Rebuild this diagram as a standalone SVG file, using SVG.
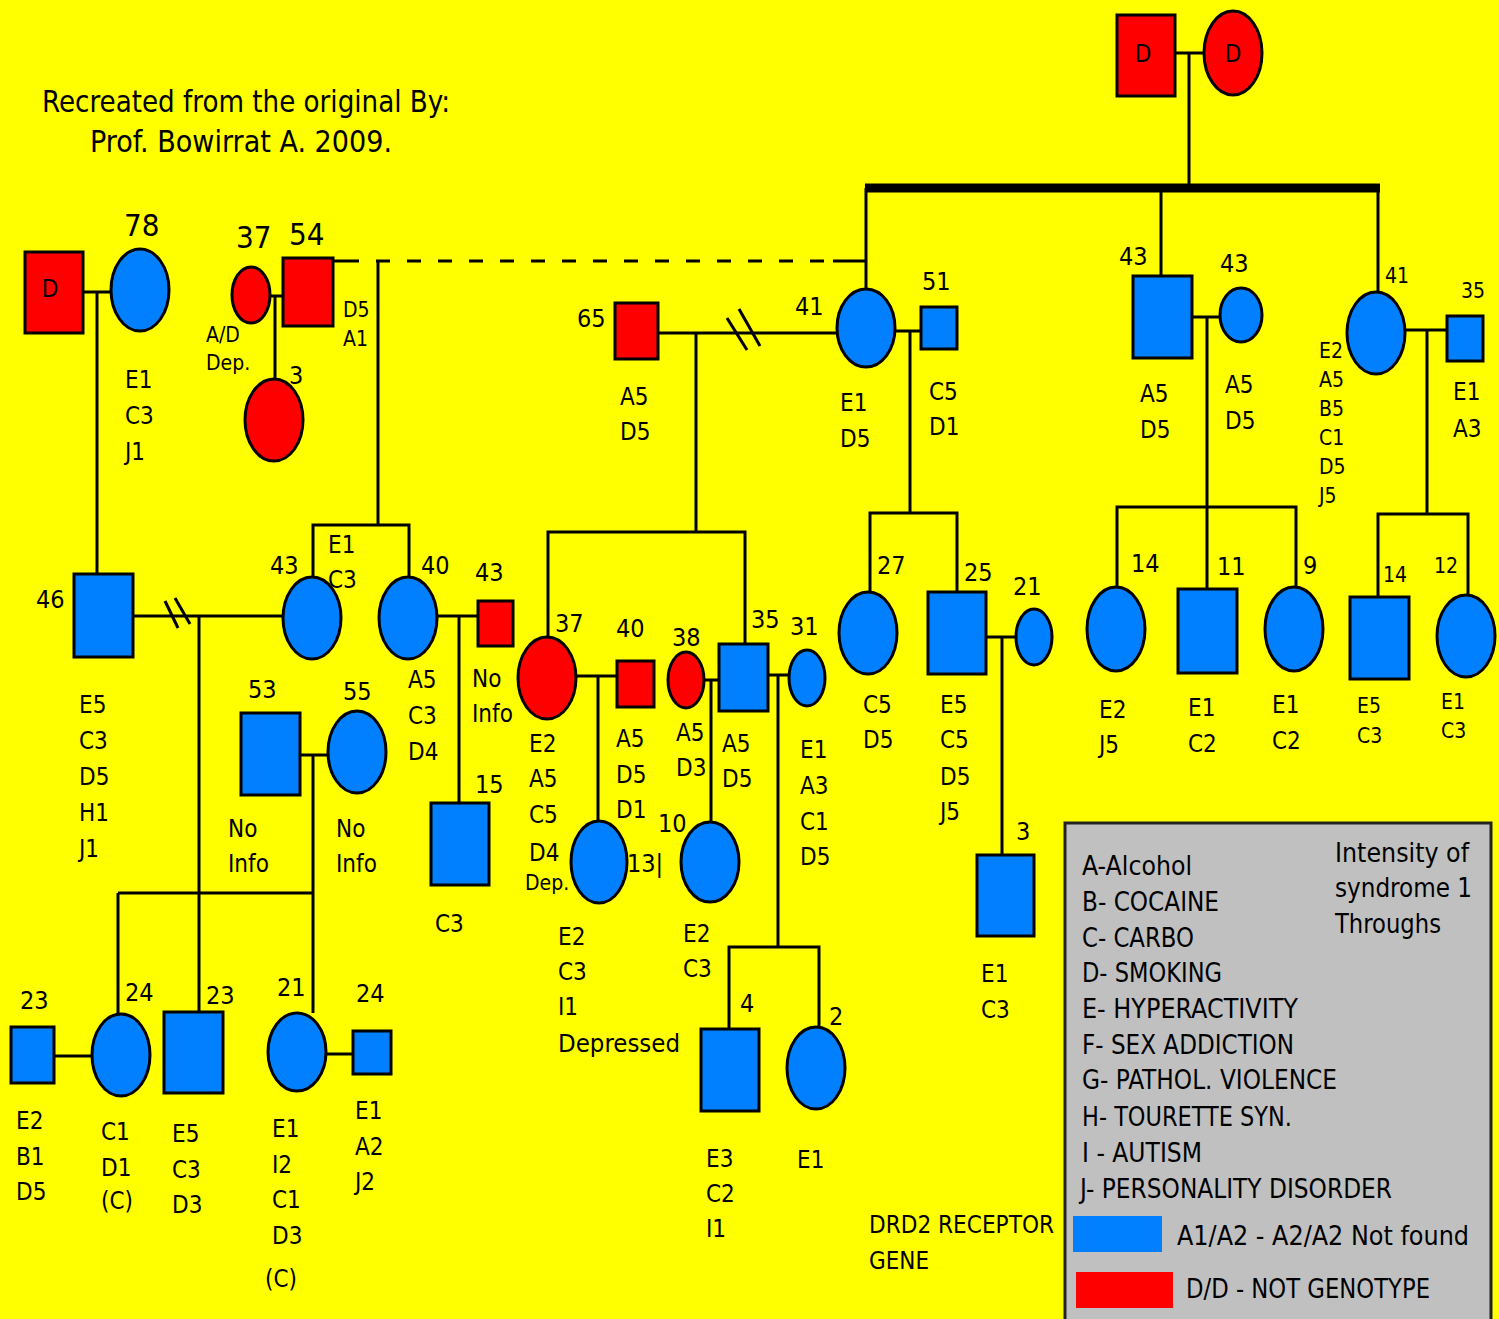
<svg xmlns="http://www.w3.org/2000/svg" width="1499" height="1319" viewBox="0 0 1499 1319">
<style>
text{font-family:"DejaVu Sans Condensed","Liberation Sans Narrow","DejaVu Sans",sans-serif;font-stretch:condensed;fill:#000;font-size:24px}
.age{font-size:25px}
.big{font-size:31px}
.sm{font-size:21px}
.leg{font-size:26px}
.b{fill:#0080FF;stroke:#000;stroke-width:3}
.r{fill:#FF0000;stroke:#000;stroke-width:3}
.ln{stroke:#000;stroke-width:3;fill:none}
</style>
<rect x="0" y="0" width="1499" height="1319" fill="#FFFF00"/>
<g id="title">
<text x="42" y="112" class="big" textLength="408" lengthAdjust="spacingAndGlyphs">Recreated from the original By:</text>
<text x="90" y="152" class="big" textLength="302" lengthAdjust="spacingAndGlyphs">Prof. Bowirrat A. 2009.</text>
</g>
<g id="connectors" class="ln">
<line x1="1175" y1="53" x2="1204" y2="53"/>
<line x1="1189" y1="53" x2="1189" y2="188"/>
<line x1="865" y1="188" x2="1380" y2="188" stroke-width="9"/>
<line x1="866" y1="188" x2="866" y2="289"/>
<line x1="1161" y1="188" x2="1161" y2="276"/>
<line x1="1378" y1="188" x2="1378" y2="292"/>
<line x1="83" y1="292" x2="111" y2="292"/>
<line x1="97" y1="292" x2="97" y2="574"/>
<line x1="270" y1="296" x2="283" y2="296"/>
<line x1="275" y1="296" x2="275" y2="379"/>
<line x1="333" y1="261" x2="345" y2="261"/>
<line x1="345" y1="261" x2="833" y2="261" stroke-dasharray="14 17"/>
<line x1="833" y1="261" x2="866" y2="261"/>
<line x1="378" y1="261" x2="378" y2="525"/>
<polyline points="313,577 313,525 409,525 409,577"/>
<line x1="133" y1="616" x2="283" y2="616"/>
<line x1="165" y1="601" x2="178" y2="628"/>
<line x1="175" y1="598" x2="190" y2="624"/>
<line x1="199" y1="616" x2="199" y2="893"/>
<line x1="118" y1="893" x2="313" y2="893"/>
<line x1="300" y1="755" x2="328" y2="755"/>
<line x1="313" y1="755" x2="313" y2="1013"/>
<line x1="118" y1="893" x2="118" y2="1014"/>
<line x1="199" y1="893" x2="199" y2="1012"/>
<line x1="54" y1="1056" x2="92" y2="1056"/>
<line x1="327" y1="1054" x2="353" y2="1054"/>
<line x1="436" y1="616" x2="478" y2="616"/>
<line x1="459" y1="616" x2="459" y2="803"/>
<line x1="658" y1="333" x2="837" y2="333"/>
<line x1="727" y1="318" x2="747" y2="350"/>
<line x1="739" y1="309" x2="760" y2="346"/>
<line x1="696" y1="333" x2="696" y2="532"/>
<polyline points="548,637 548,532 745,532 745,644"/>
<line x1="895" y1="331" x2="921" y2="331"/>
<line x1="910" y1="331" x2="910" y2="513"/>
<polyline points="870,591 870,513 957,513 957,592"/>
<line x1="1192" y1="317" x2="1220" y2="317"/>
<line x1="1207" y1="317" x2="1207" y2="589"/>
<polyline points="1117,587 1117,507 1296,507 1296,587"/>
<line x1="1406" y1="330" x2="1447" y2="330"/>
<line x1="1427" y1="330" x2="1427" y2="514"/>
<polyline points="1378,597 1378,514 1468,514 1468,595"/>
<line x1="576" y1="676" x2="617" y2="676"/>
<line x1="598" y1="676" x2="598" y2="822"/>
<line x1="704" y1="680" x2="719" y2="680"/>
<line x1="711" y1="680" x2="711" y2="822"/>
<line x1="768" y1="675" x2="789" y2="675"/>
<line x1="778" y1="675" x2="778" y2="947"/>
<polyline points="729,1029 729,947 819,947 819,1027"/>
<line x1="986" y1="637" x2="1016" y2="637"/>
<line x1="1002" y1="637" x2="1002" y2="855"/>
</g>
<g id="gp_m"><rect class="r" x="1117" y="15" width="58" height="81"/><text x="1143" y="62" text-anchor="middle">D</text></g>
<g id="gp_f"><ellipse class="r" cx="1233" cy="53" rx="29" ry="42"/><text x="1233" y="62" text-anchor="middle">D</text></g>
<g id="n_D"><rect class="r" x="25" y="252" width="58" height="81"/><text x="50" y="297" text-anchor="middle">D</text></g>
<g id="n78"><ellipse class="b" cx="140" cy="290" rx="29" ry="41"/><text x="124" y="236" class="big">78</text>
<text x="125" y="388">E1</text><text x="125" y="424">C3</text><text x="125" y="460">J1</text></g>
<g id="n37a"><ellipse class="r" cx="251" cy="295" rx="19" ry="28"/><text x="236" y="248" class="big">37</text>
<text x="206" y="342" class="sm">A/D</text><text x="206" y="370" class="sm">Dep.</text></g>
<g id="n54"><rect class="r" x="283" y="258" width="50" height="68"/><text x="289" y="245" class="big">54</text>
<text x="343" y="317" class="sm">D5</text><text x="343" y="346" class="sm">A1</text></g>
<g id="n3a"><ellipse class="r" cx="274" cy="420" rx="29" ry="41"/><text x="289" y="384" class="age">3</text></g>
<g id="n65"><rect class="r" x="615" y="303" width="43" height="56"/><text x="577" y="327" class="age">65</text>
<text x="620" y="405">A5</text><text x="620" y="440">D5</text></g>
<g id="n41a"><ellipse class="b" cx="866" cy="328" rx="29" ry="39"/><text x="795" y="315" class="age">41</text>
<text x="840" y="411">E1</text><text x="840" y="447">D5</text></g>
<g id="n51"><rect class="b" x="921" y="307" width="36" height="42"/><text x="922" y="290" class="age">51</text>
<text x="929" y="400">C5</text><text x="929" y="435">D1</text></g>
<g id="n43m"><rect class="b" x="1133" y="276" width="59" height="82"/><text x="1119" y="265" class="age">43</text>
<text x="1140" y="402">A5</text><text x="1140" y="438">D5</text></g>
<g id="n43f"><ellipse class="b" cx="1241" cy="315" rx="21" ry="27"/><text x="1220" y="272" class="age">43</text>
<text x="1225" y="393">A5</text><text x="1225" y="429">D5</text></g>
<g id="n41b"><ellipse class="b" cx="1376" cy="333" rx="29" ry="41"/><text x="1385" y="283" class="sm">41</text>
<text x="1319" y="358" class="sm">E2</text><text x="1319" y="387" class="sm">A5</text><text x="1319" y="416" class="sm">B5</text><text x="1319" y="445" class="sm">C1</text><text x="1319" y="474" class="sm">D5</text><text x="1319" y="503" class="sm">J5</text></g>
<g id="n35a"><rect class="b" x="1447" y="316" width="36" height="45"/><text x="1461" y="298" class="sm">35</text>
<text x="1453" y="400">E1</text><text x="1453" y="437">A3</text></g>
<g id="n46"><rect class="b" x="74" y="574" width="59" height="83"/><text x="36" y="608" class="age">46</text>
<text x="79" y="713">E5</text><text x="79" y="749">C3</text><text x="79" y="785">D5</text><text x="79" y="821">H1</text><text x="79" y="857">J1</text></g>
<g id="n43b"><ellipse class="b" cx="312" cy="618" rx="29" ry="41"/><text x="270" y="574" class="age">43</text>
<text x="328" y="553">E1</text><text x="328" y="588">C3</text></g>
<g id="n40a"><ellipse class="b" cx="408" cy="618" rx="29" ry="41"/><text x="421" y="574" class="age">40</text>
<text x="408" y="688">A5</text><text x="408" y="724">C3</text><text x="408" y="760">D4</text></g>
<g id="n43c"><rect class="r" x="478" y="601" width="35" height="45"/><text x="475" y="581" class="age">43</text>
<text x="472" y="687">No</text><text x="472" y="722">Info</text></g>
<g id="n53"><rect class="b" x="241" y="713" width="59" height="82"/><text x="248" y="698" class="age">53</text>
<text x="228" y="837">No</text><text x="228" y="872">Info</text></g>
<g id="n55"><ellipse class="b" cx="357" cy="752" rx="29" ry="41"/><text x="343" y="700" class="age">55</text>
<text x="336" y="837">No</text><text x="336" y="872">Info</text></g>
<g id="n15"><rect class="b" x="431" y="803" width="58" height="82"/><text x="475" y="793" class="age">15</text>
<text x="435" y="932">C3</text></g>
<g id="n37b"><ellipse class="r" cx="547" cy="678" rx="29" ry="41"/><text x="555" y="632" class="age">37</text>
<text x="529" y="752">E2</text><text x="529" y="787">A5</text><text x="529" y="823">C5</text><text x="529" y="861">D4</text><text x="525" y="890" class="sm">Dep.</text></g>
<g id="n40b"><rect class="r" x="617" y="661" width="37" height="46"/><text x="616" y="637" class="age">40</text>
<text x="616" y="747">A5</text><text x="616" y="783">D5</text><text x="616" y="818">D1</text></g>
<g id="n38"><ellipse class="r" cx="686" cy="680" rx="18" ry="28"/><text x="672" y="646" class="age">38</text>
<text x="676" y="741">A5</text><text x="676" y="776">D3</text></g>
<g id="n35b"><rect class="b" x="719" y="644" width="49" height="67"/><text x="751" y="628" class="age">35</text>
<text x="722" y="752">A5</text><text x="722" y="787">D5</text></g>
<g id="n31"><ellipse class="b" cx="807" cy="678" rx="18" ry="28"/><text x="790" y="635" class="age">31</text>
<text x="800" y="758">E1</text><text x="800" y="794">A3</text><text x="800" y="830">C1</text><text x="800" y="865">D5</text></g>
<g id="n13"><ellipse class="b" cx="599" cy="862" rx="28" ry="41"/><text x="627" y="872" class="age">13|</text>
<text x="558" y="945">E2</text><text x="558" y="980">C3</text><text x="558" y="1015">I1</text><text x="558" y="1052" textLength="122" lengthAdjust="spacingAndGlyphs">Depressed</text></g>
<g id="n10"><ellipse class="b" cx="710" cy="862" rx="29" ry="40"/><text x="658" y="832" class="age">10</text>
<text x="683" y="942">E2</text><text x="683" y="977">C3</text></g>
<g id="n27"><ellipse class="b" cx="868" cy="633" rx="29" ry="41"/><text x="877" y="574" class="age">27</text>
<text x="863" y="713">C5</text><text x="863" y="748">D5</text></g>
<g id="n25"><rect class="b" x="928" y="592" width="58" height="82"/><text x="964" y="581" class="age">25</text>
<text x="940" y="713">E5</text><text x="940" y="748">C5</text><text x="940" y="785">D5</text><text x="940" y="820">J5</text></g>
<g id="n21a"><ellipse class="b" cx="1034" cy="637" rx="18" ry="28"/><text x="1013" y="595" class="age">21</text></g>
<g id="n3b"><rect class="b" x="977" y="855" width="57" height="81"/><text x="1016" y="840" class="age">3</text>
<text x="981" y="982">E1</text><text x="981" y="1018">C3</text></g>
<g id="n14a"><ellipse class="b" cx="1116" cy="629" rx="29" ry="42"/><text x="1131" y="572" class="age">14</text>
<text x="1099" y="718">E2</text><text x="1099" y="753">J5</text></g>
<g id="n11"><rect class="b" x="1178" y="589" width="59" height="84"/><text x="1217" y="575" class="age">11</text>
<text x="1188" y="716">E1</text><text x="1188" y="752">C2</text></g>
<g id="n9"><ellipse class="b" cx="1294" cy="629" rx="29" ry="42"/><text x="1303" y="574" class="age">9</text>
<text x="1272" y="713">E1</text><text x="1272" y="749">C2</text></g>
<g id="n14b"><rect class="b" x="1350" y="597" width="59" height="82"/><text x="1383" y="582" class="sm">14</text>
<text x="1357" y="713" class="sm">E5</text><text x="1357" y="743" class="sm">C3</text></g>
<g id="n12"><ellipse class="b" cx="1466" cy="636" rx="29" ry="41"/><text x="1434" y="573" class="sm">12</text>
<text x="1441" y="709" class="sm">E1</text><text x="1441" y="738" class="sm">C3</text></g>
<g id="n23a"><rect class="b" x="11" y="1027" width="43" height="56"/><text x="20" y="1009" class="age">23</text>
<text x="16" y="1129">E2</text><text x="16" y="1165">B1</text><text x="16" y="1200">D5</text></g>
<g id="n24a"><ellipse class="b" cx="121" cy="1055" rx="29" ry="41"/><text x="125" y="1001" class="age">24</text>
<text x="101" y="1140">C1</text><text x="101" y="1176">D1</text><text x="101" y="1209">(C)</text></g>
<g id="n23b"><rect class="b" x="164" y="1012" width="59" height="81"/><text x="206" y="1004" class="age">23</text>
<text x="172" y="1142">E5</text><text x="172" y="1178">C3</text><text x="172" y="1213">D3</text></g>
<g id="n21b"><ellipse class="b" cx="297" cy="1052" rx="29" ry="39"/><text x="277" y="996" class="age">21</text>
<text x="272" y="1137">E1</text><text x="272" y="1173">I2</text><text x="272" y="1208">C1</text><text x="272" y="1244">D3</text><text x="265" y="1287">(C)</text></g>
<g id="n24b"><rect class="b" x="353" y="1031" width="38" height="43"/><text x="356" y="1002" class="age">24</text>
<text x="355" y="1119">E1</text><text x="355" y="1155">A2</text><text x="355" y="1190">J2</text></g>
<g id="n4"><rect class="b" x="701" y="1029" width="58" height="82"/><text x="740" y="1012" class="age">4</text>
<text x="706" y="1167">E3</text><text x="706" y="1202">C2</text><text x="706" y="1237">I1</text></g>
<g id="n2"><ellipse class="b" cx="816" cy="1068" rx="29" ry="41"/><text x="829" y="1025" class="age">2</text>
<text x="797" y="1168">E1</text></g>
<g id="gene">
<text x="869" y="1233" textLength="185" lengthAdjust="spacingAndGlyphs">DRD2 RECEPTOR</text>
<text x="869" y="1269" textLength="60" lengthAdjust="spacingAndGlyphs">GENE</text>
</g>
<g id="legend">
<rect x="1065" y="823" width="426" height="500" fill="#C0C0C0" stroke="#222" stroke-width="3"/>
<text x="1082" y="875" class="leg" textLength="110" lengthAdjust="spacingAndGlyphs">A-Alcohol</text>
<text x="1082" y="911" class="leg" textLength="137" lengthAdjust="spacingAndGlyphs">B- COCAINE</text>
<text x="1082" y="947" class="leg" textLength="112" lengthAdjust="spacingAndGlyphs">C- CARBO</text>
<text x="1082" y="982" class="leg" textLength="140" lengthAdjust="spacingAndGlyphs">D- SMOKING</text>
<text x="1082" y="1018" class="leg" textLength="216" lengthAdjust="spacingAndGlyphs">E- HYPERACTIVITY</text>
<text x="1082" y="1054" class="leg" textLength="212" lengthAdjust="spacingAndGlyphs">F- SEX ADDICTION</text>
<text x="1082" y="1089" class="leg" textLength="255" lengthAdjust="spacingAndGlyphs">G- PATHOL. VIOLENCE</text>
<text x="1082" y="1126" class="leg" textLength="210" lengthAdjust="spacingAndGlyphs">H- TOURETTE SYN.</text>
<text x="1082" y="1162" class="leg" textLength="120" lengthAdjust="spacingAndGlyphs">I - AUTISM</text>
<text x="1080" y="1198" class="leg" textLength="312" lengthAdjust="spacingAndGlyphs">J- PERSONALITY DISORDER</text>
<text x="1335" y="862" class="leg" textLength="134" lengthAdjust="spacingAndGlyphs">Intensity of</text>
<text x="1335" y="897" class="leg" textLength="137" lengthAdjust="spacingAndGlyphs">syndrome 1</text>
<text x="1335" y="933" class="leg" textLength="106" lengthAdjust="spacingAndGlyphs">Throughs</text>
<rect x="1073" y="1216" width="89" height="36" fill="#0080FF"/>
<text x="1177" y="1245" class="leg" textLength="292" lengthAdjust="spacingAndGlyphs">A1/A2 - A2/A2 Not found</text>
<rect x="1076" y="1272" width="97" height="36" fill="#FF0000"/>
<text x="1186" y="1298" class="leg" textLength="244" lengthAdjust="spacingAndGlyphs">D/D - NOT GENOTYPE</text>
</g>
</svg>
